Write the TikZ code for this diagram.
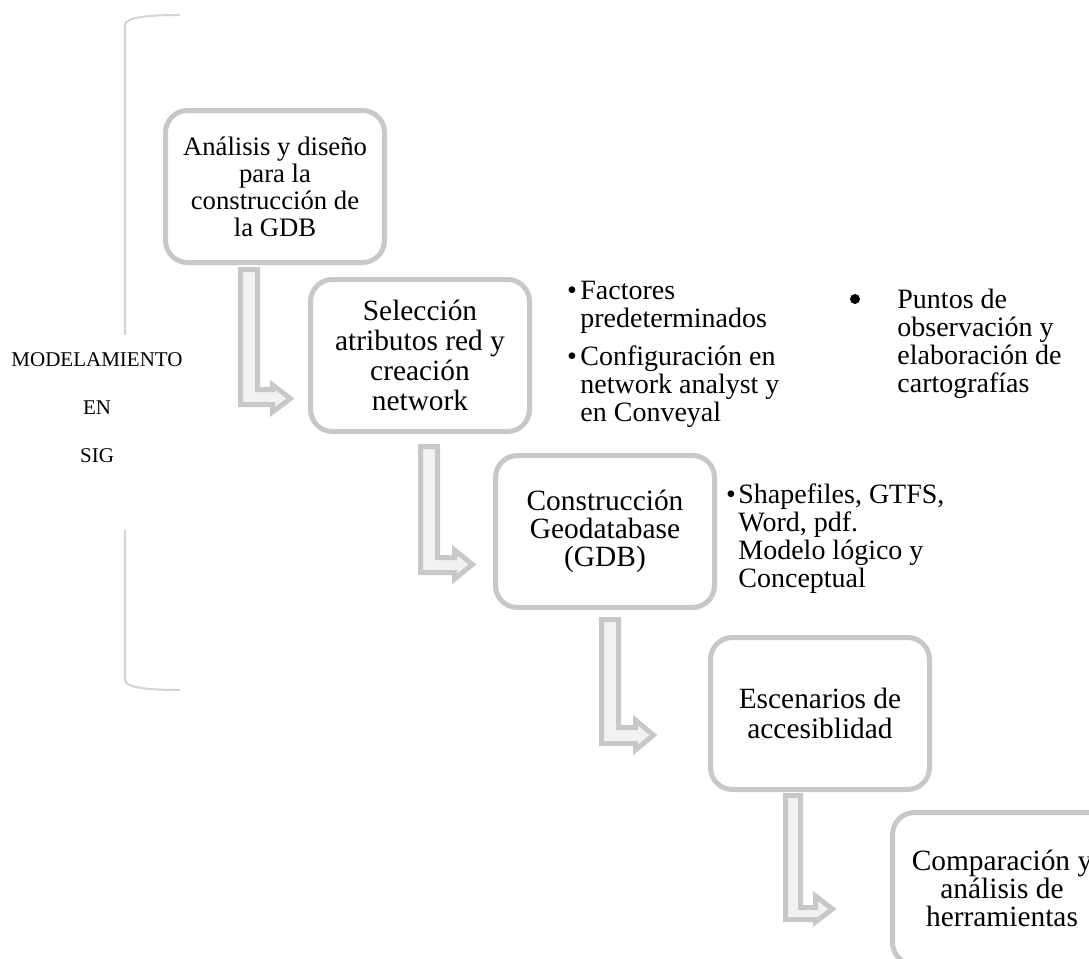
\documentclass[tikz,border=0pt]{standalone}
\usepackage{fontspec}
\setmainfont{Liberation Serif}
\definecolor{boxline}{RGB}{200,200,200}
\definecolor{arrowfill}{RGB}{242,242,242}
\definecolor{bracketline}{RGB}{212,212,212}
\tikzset{
  stage/.style={draw=boxline, line width=2.5pt, fill=white, rounded corners=11pt,
    minimum width=109.5pt, minimum height=76pt, inner sep=0pt, align=center,
    font=\fontsize{14.7}{15}\selectfont},
  bentarrowshape/.style={draw=boxline, fill=arrowfill, line width=2.5pt, line join=miter},
  bracketstroke/.style={draw=bracketline, line width=1pt},
  notes/.style={anchor=base west, inner sep=0pt}
}
% bent arrow: shaft left/right, top, bar top/bottom, head base x, head top/bottom, tip x
\newcommand\bentarrow[9]{%
  \draw[bentarrowshape] ({#1+2.5},{#3+2.5}) -- ({#2-2.5},{#3+2.5}) -- ({#2-2.5},{#4+2.5})
    -- ({#6+2.5},{#4+2.5}) -- ({#6+2.5},{#7+3}) -- ({#9-4.6},{(#7+#8)/2})
    -- ({#6+2.5},{#8-3}) -- ({#6+2.5},{#5-2.5}) -- ({#1+2.5},{#5-2.5}) -- cycle;}
\begin{document}
\begin{tikzpicture}[x=0.5pt,y=-0.5pt]
\path[use as bounding box] (0,0) rectangle (1089,959);
\fill[white] (0,0) rectangle (1089,959);
\clip (0,0) rectangle (1089,959);

% side bracket
\draw[bracketstroke] (125,335) -- (125,25) .. controls (125,17) and (150,15) .. (180,15);
\draw[bracketstroke] (125,530) -- (125,680) .. controls (125,688) and (150,690) .. (180,690);
\node[anchor=base, inner sep=0pt, font=\fontsize{10.5}{24}\selectfont] (modelo) at (97,366)
  {\begin{tabular}[t]{@{}c@{}}MODELAMIENTO\\EN\\SIG\end{tabular}};

% bent arrows between the stages
\bentarrow{238}{260}{267}{387}{407}{270}{382}{415}{295}
\bentarrow{418}{440}{444}{555}{575}{452}{547}{582}{477}
\bentarrow{599}{621}{617}{725}{746}{633}{717}{753}{658}
\bentarrow{783}{803}{793}{905}{922}{813}{893}{925}{837}

% stages
\node[stage, font=\fontsize{13.35}{13.5}\selectfont] (b1) at (275,186.5)
  {Análisis y diseño\\para la\\construcción de\\la GDB};
\node[stage] (b2) at (420,355.5) {Selección\\atributos red y\\creación\\network};
\node[stage, font=\fontsize{14.7}{14.2}\selectfont] (b3) at (605,531.5)
  {Construcción\\Geodatabase\\(GDB)};
\node[stage] (b4) at (820,713.5) {Escenarios de\\accesiblidad};
\node[stage, font=\fontsize{14.7}{13.9}\selectfont] (b5) at (1002,888.5)
  {Comparación y\\análisis de\\herramientas};

% side notes
\node[notes] (n1) at (566.6,299) {\fontsize{14}{14}\selectfont
  \begin{tabular}[t]{@{}l@{}l@{}}
  \makebox[6.7pt][l]{•} & Factores\\
   & predeterminados\\[5pt]
  \makebox[6.7pt][l]{•} & Configuración en\\
   & network analyst y\\
   & en Conveyal
  \end{tabular}};
\fill (855,299) circle (5);
\node[notes] (n2) at (897,308) {\fontsize{14}{14}\selectfont
  \begin{tabular}[t]{@{}l@{}}
  Puntos de\\observación y\\elaboración de\\cartografías
  \end{tabular}};
\node[notes] (n3) at (725.6,503) {\fontsize{14}{14}\selectfont
  \begin{tabular}[t]{@{}l@{}l@{}}
  \makebox[6.2pt][l]{•} & Shapefiles, GTFS,\\
   & Word, pdf.\\
   & Modelo lógico y\\
   & Conceptual
  \end{tabular}};
\end{tikzpicture}
\end{document}
